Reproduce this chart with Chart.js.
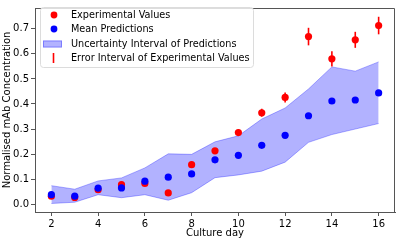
<!DOCTYPE html>
<html>
<head>
<meta charset="utf-8">
<script src="https://cdn.jsdelivr.net/npm/chart.js@4.4.1/dist/chart.umd.min.js"></script>
<style>
  html, body { margin:0; padding:0; background:#fff; }
  #wrap { width:399px; height:241px; }
</style>
</head>
<body>
<div id="wrap"><canvas id="chart" width="399" height="241"></canvas></div>
<script>
// ── data ─────────────────────────────────────────────────────────────────────
const DAYS      = [2,3,4,5,6,7,8,9,10,11,12,13,14,15,16];
const EXP_VALS  = [0.032,0.027,0.058,0.078,0.083,0.045,0.158,0.213,0.286,0.365,0.426,0.669,0.580,0.656,0.713];
const EXP_ERR   = [0.004,0.004,0.004,0.005,0.005,0.004,0.006,0.008,0.012,0.016,0.020,0.035,0.030,0.032,0.035];
const PRED_MEAN = [0.038,0.032,0.064,0.065,0.092,0.108,0.121,0.177,0.195,0.235,0.275,0.353,0.412,0.416,0.444];
const PRED_UP   = [0.074,0.060,0.093,0.105,0.145,0.201,0.199,0.249,0.273,0.340,0.384,0.460,0.548,0.531,0.568];
const PRED_LO   = [0.003,0.008,0.038,0.026,0.038,0.016,0.046,0.106,0.117,0.132,0.168,0.247,0.278,0.300,0.322];
const X_TICKS   = [2,4,6,8,10,12,14,16];
const Y_TICKS   = [0.0,0.1,0.2,0.3,0.4,0.5,0.6,0.7];

const FONT = "'DejaVu Sans', sans-serif";
const BAND = "rgba(0,0,255,0.3)";
const AXIS = "#555";
const pts = (xs, ys) => xs.map((x,i) => ({ x, y: ys[i] }));

// error bars, drawn just above the band so the red dots sit on top
const errorBars = {
  id: "errorBars",
  afterDatasetDraw(chart, args) {
    if (args.index !== 2) return;
    const { ctx, scales: { x, y } } = chart;
    ctx.save();
    ctx.strokeStyle = "red";
    ctx.lineWidth = 1.6;
    DAYS.forEach((d,i) => {
      const px = x.getPixelForValue(d);
      ctx.beginPath();
      ctx.moveTo(px, y.getPixelForValue(EXP_VALS[i] - EXP_ERR[i]));
      ctx.lineTo(px, y.getPixelForValue(EXP_VALS[i] + EXP_ERR[i]));
      ctx.stroke();
    });
    ctx.restore();
  }
};

// matplotlib-style legend box
const mplLegend = {
  id: "mplLegend",
  afterDraw(chart) {
    const ctx = chart.ctx;
    const x0 = 40, y0 = 7, w = 213, h = 60;
    ctx.save();
    ctx.fillStyle = "rgba(255,255,255,0.8)";
    ctx.strokeStyle = "#dcdcdc";
    ctx.lineWidth = 1;
    ctx.beginPath();
    ctx.roundRect(x0 + 0.5, y0 + 0.5, w, h, 3);
    ctx.fill(); ctx.stroke();

    const rows = [15, 29, 44, 58];
    const mx = 54;
    ctx.fillStyle = "red";
    ctx.beginPath(); ctx.arc(mx, rows[0], 3.4, 0, Math.PI*2); ctx.fill();
    ctx.fillStyle = "blue";
    ctx.beginPath(); ctx.arc(mx, rows[1], 3.4, 0, Math.PI*2); ctx.fill();
    ctx.fillStyle = BAND;
    ctx.fillRect(43, rows[2] - 3.5, 19, 7);
    ctx.strokeStyle = BAND;
    ctx.strokeRect(43.5, rows[2] - 3, 18, 6);
    ctx.strokeStyle = "red"; ctx.lineWidth = 1.6;
    ctx.beginPath(); ctx.moveTo(mx - 0.5, rows[3] - 5); ctx.lineTo(mx - 0.5, rows[3] + 5); ctx.stroke();

    ctx.fillStyle = "#000";
    ctx.font = "9.7px " + FONT;
    ctx.textBaseline = "middle";
    ["Experimental Values","Mean Predictions","Uncertainty Interval of Predictions","Error Interval of Experimental Values"]
      .forEach((t,i) => ctx.fillText(t, 71, rows[i]));
    ctx.restore();
  }
};

new Chart(document.getElementById("chart"), {
  type: "scatter",
  data: {
    datasets: [
      { label:"Mean Predictions", data:pts(DAYS, PRED_MEAN), backgroundColor:"blue", borderColor:"blue", pointRadius:3.6, pointBorderWidth:0, order:0 },
      { label:"Experimental Values", data:pts(DAYS, EXP_VALS), backgroundColor:"red", borderColor:"red", pointRadius:3.6, pointBorderWidth:0, order:1 },
      { label:"upper", data:pts(DAYS, PRED_UP), showLine:true, pointRadius:0, borderColor:BAND, borderWidth:1, backgroundColor:BAND, fill:"+1", order:3 },
      { label:"lower", data:pts(DAYS, PRED_LO), showLine:true, pointRadius:0, borderColor:BAND, borderWidth:1, fill:false, order:4 }
    ]
  },
  options: {
    responsive:false,
    animation:false,
    layout:{ padding:{ top:3, right:4, left:0, bottom:0 } },
    plugins:{ legend:{ display:false }, tooltip:{ enabled:false }, filler:{ propagate:false } },
    scales:{
      x:{
        type:"linear", min:1.3, max:16.7,
        afterBuildTicks: a => { a.ticks = X_TICKS.map(v => ({ value:v })); },
        afterFit: s => { s.height = 29; },
        grid:{ drawOnChartArea:false, tickLength:4, color:AXIS },
        border:{ color:AXIS, width:1 },
        ticks:{ color:"#000", font:{ family:FONT, size:10 }, padding:2, maxRotation:0 },
        title:{ display:true, text:"Culture day", color:"#000", font:{ family:FONT, size:10 }, padding:{ top:0, bottom:2 } }
      },
      y:{
        type:"linear", min:-0.031, max:0.783,
        afterBuildTicks: a => { a.ticks = Y_TICKS.map(v => ({ value:v })); },
        afterFit: s => { s.width = 35; },
        grid:{ drawOnChartArea:false, tickLength:4, color:AXIS },
        border:{ color:AXIS, width:1 },
        ticks:{ color:"#000", font:{ family:FONT, size:10 }, padding:2, callback: v => v.toFixed(1) },
        title:{ display:true, text:"Normalised mAb Concentration", color:"#000", font:{ family:FONT, size:10 }, padding:{ top:1.5, bottom:0 } }
      }
    }
  },
  plugins:[errorBars, mplLegend, {
    id:"frame",
    afterDatasetsDraw(chart) {
      const { ctx, chartArea:a } = chart;
      ctx.save(); ctx.strokeStyle = AXIS; ctx.lineWidth = 1;
      ctx.beginPath();
      ctx.moveTo(a.left, a.top + 0.5); ctx.lineTo(a.right - 0.5, a.top + 0.5); ctx.lineTo(a.right - 0.5, a.bottom);
      ctx.stroke(); ctx.restore();
    }
  }]
});
</script>
</body>
</html>
